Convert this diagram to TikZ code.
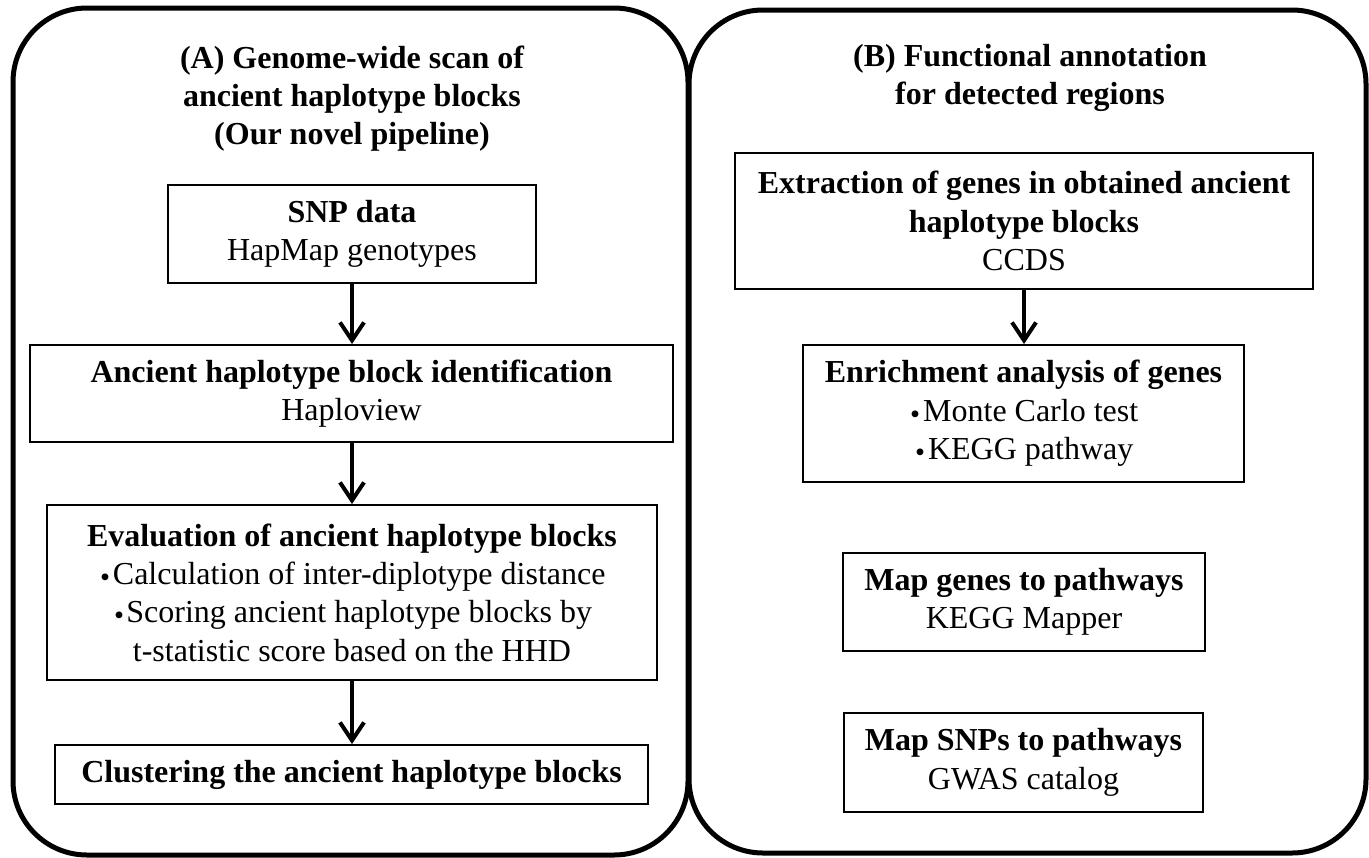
\documentclass[tikz,border=0pt]{standalone}
\usepackage{fontspec}
\setmainfont{Liberation Serif}
\newfontfamily\cjk{Noto Sans CJK JP}
\usetikzlibrary{arrows.meta}
\newcommand{\bul}{\makebox[0.45em][c]{\raisebox{-0.16em}{\cjk ・}}}
\begin{document}
\begin{tikzpicture}[x=0.5pt,y=-0.5pt,
  panel/.style={draw, line width=2.5pt, rounded corners=37pt},
  stepbox/.style={draw, line width=1pt, align=center, inner sep=0pt, font=\fontsize{16}{19.2}\selectfont},
  ttl/.style={align=center, inner sep=0pt, font=\fontsize{16}{19}\selectfont\bfseries},
  arr/.style={line width=2pt, -{Straight Barb[length=9pt,width=12pt]}}]
\useasboundingbox (0,0) rectangle (1369,857);
% panels
\draw[panel] (13,8) rectangle (688,855);
\draw[panel] (689,10) rectangle (1366,853);
% titles
\node[ttl] (ta) at (352,99) {(A) Genome-wide scan of\\ancient haplotype blocks\\(Our novel pipeline)};
\node[ttl] (tb) at (1030,78) {(B) Functional annotation\\for detected regions};
% left column
\node[stepbox, minimum width=184pt, minimum height=49pt] (snp) at (352,234)
  {\textbf{SNP data}\\HapMap genotypes};
\node[stepbox, minimum width=321.5pt, minimum height=48.5pt] (anc) at (351.5,393.5)
  {\textbf{Ancient haplotype block identification}\\Haploview};
\node[stepbox, minimum width=305pt, minimum height=87.5pt] (eval) at (352,592.5)
  {\textbf{Evaluation of ancient haplotype blocks}\\\bul Calculation of inter-diplotype distance\\\bul Scoring ancient haplotype blocks by\\t-statistic score based on the HHD};
\node[stepbox, minimum width=296.5pt, minimum height=29.5pt] (clus) at (351.5,774.5)
  {\textbf{Clustering the ancient haplotype blocks}};
% right column
\node[stepbox, minimum width=289pt, minimum height=68pt] (ext) at (1024,221)
  {\textbf{Extraction of genes in obtained ancient}\\\textbf{haplotype blocks}\\CCDS};
\node[stepbox, minimum width=220.5pt, minimum height=68.5pt] (enr) at (1023.5,413.5)
  {\textbf{Enrichment analysis of genes}\\\bul Monte Carlo test\\\bul KEGG pathway};
\node[stepbox, minimum width=181pt, minimum height=49pt] (mapg) at (1024,602)
  {\textbf{Map genes to pathways}\\KEGG Mapper};
\node[stepbox, minimum width=179.5pt, minimum height=49.5pt] (maps) at (1023.5,762.5)
  {\textbf{Map SNPs to pathways}\\GWAS catalog};
% arrows
\draw[arr] (snp.south) -- (snp.south |- anc.north);
\draw[arr] (snp.south |- anc.south) -- (snp.south |- eval.north);
\draw[arr] (snp.south |- eval.south) -- (snp.south |- clus.north);
\draw[arr] (ext.south) -- (ext.south |- enr.north);
\end{tikzpicture}
\end{document}
